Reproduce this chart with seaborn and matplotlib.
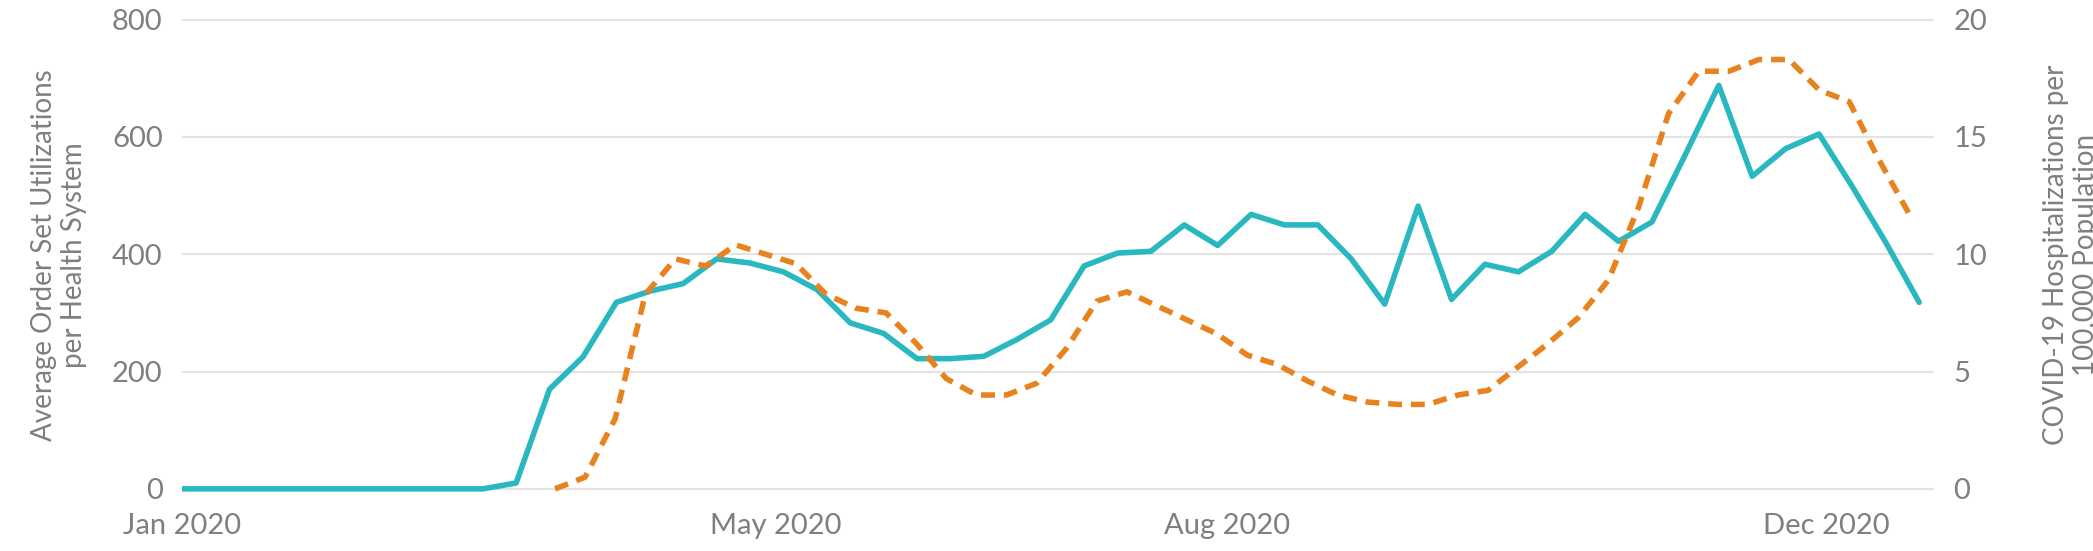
import matplotlib
matplotlib.use("Agg")
import matplotlib.pyplot as plt
import seaborn as sns
import pandas as pd

# weekly order set utilizations (left axis)
order_sets = [0, 0, 0, 0, 0, 0, 0, 0, 0, 0,
              10, 170, 225, 318, 337, 350, 392, 385, 370, 340,
              283, 265, 222, 222, 226, 255, 288, 380, 402, 405,
              450, 415, 468, 450, 450, 392, 315, 482, 323, 383,
              370, 405, 468, 422, 455, 570, 688, 533, 580, 605,
              515, 420, 318]
order_dates = pd.date_range("2020-01-01", "2020-12-20", periods=len(order_sets))

# covid hospitalizations per 100k (right axis)
hosp = [0, 0.5, 3, 8.3, 9.8, 9.5, 10.4, 10.0, 9.6, 8.3,
        7.7, 7.5, 6.2, 4.7, 4.0, 4.0, 4.5, 6.0, 8.0, 8.4,
        7.8, 7.2, 6.6, 5.7, 5.3, 4.6, 4.0, 3.7, 3.6, 3.6,
        4.0, 4.2, 5.2, 6.2, 7.3, 8.9, 12, 16, 17.8, 17.8,
        18.3, 18.3, 17, 16.5, 14, 11.7]
hosp_dates = pd.date_range("2020-03-17", "2020-12-18", periods=len(hosp))

tick_dates = pd.to_datetime(["2020-01-01", "2020-05-01", "2020-08-01", "2020-12-01"])
tick_labels = ["Jan 2020", "May 2020", "Aug 2020", "Dec 2020"]

sns.set_theme(style="white")
plt.rcParams["font.family"] = ["Lato", "DejaVu Sans"]
grey = "#7f7f7f"

fig, ax1 = plt.subplots(figsize=(20.93, 5.51), dpi=100)
fig.subplots_adjust(left=0.087, right=0.924, top=0.975, bottom=0.1)
ax2 = ax1.twinx()

sns.lineplot(x=order_dates, y=order_sets, ax=ax1, color="#29b7c0", linewidth=4)
sns.lineplot(x=hosp_dates, y=hosp, ax=ax2, color="#e8821e", linewidth=4)
ax2.lines[0].set_linestyle((0, (2.5, 1.6)))

ax1.set_xlim(pd.Timestamp("2020-01-01"), pd.Timestamp("2020-12-23"))
ax1.set_ylim(-12, 810)
ax2.set_ylim(-12 / 40, 810 / 40)
ax1.set_yticks([0, 200, 400, 600, 800])
ax2.set_yticks([0, 5, 10, 15, 20])
ax1.set_xticks(tick_dates)
ax1.set_xticklabels(tick_labels)
ax1.set_xlabel("")

ax1.grid(axis="y", color="#e3e3e3", linewidth=1.5)
ax1.grid(axis="x", visible=False)
ax2.grid(False)
for a in (ax1, ax2):
    for s in a.spines.values():
        s.set_visible(False)
    a.tick_params(axis="both", colors=grey, labelsize=21, length=0)
ax1.tick_params(axis="x", pad=12)
ax1.tick_params(axis="y", pad=14)
ax2.tick_params(axis="y", pad=14)

ax1.set_ylabel("Average Order Set Utilizations\nper Health System", color=grey, fontsize=20, labelpad=18)
ax2.set_ylabel("COVID-19 Hospitalizations per\n100,000 Population", color=grey, fontsize=20, labelpad=40)

fig.savefig("out.png", dpi=100)
